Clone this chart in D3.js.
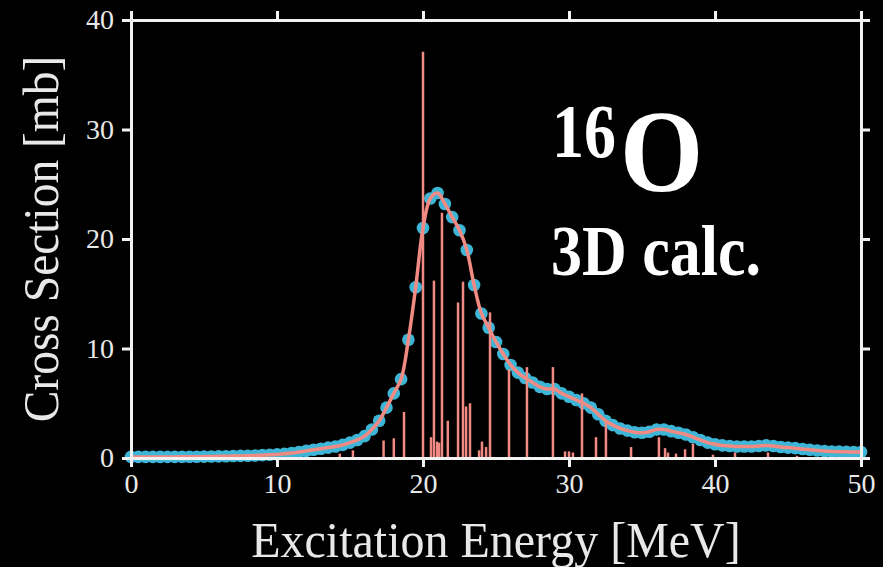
<!DOCTYPE html>
<html>
<head>
  <meta charset="utf-8">
  <title>16O cross section</title>
  <script src="https://cdn.jsdelivr.net/npm/d3@7"></script>
  <style>
    body { margin: 0; background: #000; }
    svg { display: block; }
    .tick text { font-family: "Liberation Serif", serif; fill: #e8e8e8; }
  </style>
</head>
<body>
<div id="container"></div>
<script>
// smoothed strength function, 0.5 MeV grid
var energies = d3.range(0, 50.01, 0.5);
var crossSection = [
  0.10, 0.10, 0.10, 0.10, 0.10, 0.10, 0.10, 0.11, 0.12, 0.12,
  0.13, 0.14, 0.15, 0.16, 0.18, 0.19, 0.21, 0.23, 0.26, 0.29,
  0.33, 0.38, 0.45, 0.55, 0.65, 0.75, 0.85, 0.95, 1.05, 1.20,
  1.40, 1.65, 2.00, 2.60, 3.40, 4.60, 5.90, 7.20, 10.8, 15.6,
  21.0, 23.7, 24.2, 23.2, 22.0, 20.8, 19.0, 15.8, 13.2, 11.9,
  10.6, 9.50, 8.50, 7.80, 7.30, 6.90, 6.50, 6.30, 6.30, 5.90,
  5.60, 5.30, 5.00, 4.60, 4.00, 3.40, 3.00, 2.70, 2.50, 2.35,
  2.30, 2.40, 2.60, 2.60, 2.45, 2.30, 2.15, 1.90, 1.65, 1.40,
  1.25, 1.15, 1.10, 1.05, 1.05, 1.05, 1.10, 1.15, 1.10, 1.00,
  0.95, 0.90, 0.82, 0.75, 0.68, 0.63, 0.60, 0.58, 0.56, 0.55,
  0.55
];

// discrete transition strengths (sticks)
var lineEnergies = [
  14.3, 15.2, 17.3, 18.0, 18.7, 20.0, 20.55, 20.75, 20.96, 21.1,
  21.3, 21.7, 22.4, 22.74, 22.95, 23.22, 23.84, 24.04, 24.32, 24.59,
  25.89, 27.12, 28.9, 29.73, 30.0, 30.27, 30.89, 31.85, 32.53, 34.25,
  36.16, 36.58, 36.78, 37.33, 37.95, 38.49, 39.86, 41.37, 43.63, 45.62
];
var lineStrengths = [
  0.4, 0.7, 1.6, 1.8, 4.2, 37.1, 1.9, 16.2, 1.5, 1.4,
  22.4, 3.4, 14.2, 16.1, 4.7, 5.0, 0.7, 1.5, 1.0, 13.3,
  8.1, 8.3, 8.3, 0.6, 0.6, 0.5, 5.9, 1.9, 3.3, 1.0,
  1.9, 0.9, 0.5, 0.4, 0.8, 1.3, 0.3, 0.5, 0.5, 0.2
];

var xTicks = [0, 10, 20, 30, 40, 50];
var yTicks = [0, 10, 20, 30, 40];

var width = 883, height = 567;
var margin = {top: 20, right: 22, bottom: 109, left: 131};

var svg = d3.select("#container").append("svg")
  .attr("width", width).attr("height", height)
  .style("background", "#000");

var x = d3.scaleLinear().domain([0, 50]).range([margin.left, width - margin.right]);
var y = d3.scaleLinear().domain([0, 40]).range([height - margin.bottom, margin.top]);

var lineColor = "#f28a84";
var dotColor = "#3db5d6";
var axisColor = "#f2f2f2";

var data = energies.map(function(e, i){ return {e: e, v: crossSection[i]}; });
var sticks = lineEnergies.map(function(e, i){ return {e: e, v: lineStrengths[i]}; });

// markers
svg.append("g").selectAll("circle").data(data).enter().append("circle")
  .attr("cx", function(d){ return x(d.e); })
  .attr("cy", function(d){ return y(d.v); })
  .attr("r", 6.3)
  .attr("fill", dotColor);

// smooth curve
var line = d3.line()
  .x(function(d){ return x(d.e); })
  .y(function(d){ return y(d.v); })
  .curve(d3.curveCatmullRom);

svg.append("path").datum(data)
  .attr("d", line)
  .attr("fill", "none")
  .attr("stroke", lineColor)
  .attr("stroke-width", 3.5);

// sticks
svg.append("g").selectAll("line").data(sticks).enter().append("line")
  .attr("x1", function(d){ return x(d.e); })
  .attr("x2", function(d){ return x(d.e); })
  .attr("y1", y(0))
  .attr("y2", function(d){ return y(d.v); })
  .attr("stroke", lineColor)
  .attr("stroke-width", 2.5);

// axes, ticks outward on all four sides
function styleAxis(g){
  g.selectAll(".domain").attr("stroke", axisColor).attr("stroke-width", 3);
  g.selectAll(".tick line").attr("stroke", axisColor).attr("stroke-width", 3);
}

svg.append("g")
  .attr("transform", "translate(0," + y(0) + ")")
  .call(d3.axisBottom(x).tickValues(xTicks).tickSize(9).tickSizeOuter(0).tickPadding(6))
  .call(styleAxis)
  .selectAll("text").style("font-size", "28px");

svg.append("g")
  .attr("transform", "translate(0," + y(40) + ")")
  .call(d3.axisTop(x).tickValues(xTicks).tickSize(9).tickSizeOuter(0).tickFormat(""))
  .call(styleAxis);

svg.append("g")
  .attr("transform", "translate(" + x(0) + ",0)")
  .call(d3.axisLeft(y).tickValues(yTicks).tickSize(9).tickSizeOuter(0).tickPadding(8))
  .call(styleAxis)
  .selectAll("text").style("font-size", "28px");

svg.append("g")
  .attr("transform", "translate(" + x(50) + ",0)")
  .call(d3.axisRight(y).tickValues(yTicks).tickSize(9).tickSizeOuter(0).tickFormat(""))
  .call(styleAxis);

// axis titles
svg.append("text")
  .attr("transform", "translate(" + (x(0) + x(50)) / 2 + ",557) scale(1,1.05)")
  .attr("text-anchor", "middle")
  .style("font-family", "Liberation Serif, serif")
  .style("font-size", "48px")
  .style("fill", "#e8e8e8")
  .text("Excitation Energy [MeV]");

svg.append("text")
  .attr("transform", "translate(58," + (y(0) + y(40)) / 2 + ") rotate(-90) scale(1,1.08)")
  .attr("text-anchor", "middle")
  .style("font-family", "Liberation Serif, serif")
  .style("font-size", "47.5px")
  .style("fill", "#e8e8e8")
  .text("Cross Section [mb]");

// annotation (glyphs in the source are a little taller than wide)
function boldText(px, base, size, sy, str){
  svg.append("text")
    .attr("transform", "translate(" + px + "," + base + ") scale(1," + sy + ")")
    .style("font-family", "Liberation Serif, serif")
    .style("font-weight", "bold")
    .style("font-size", size + "px")
    .style("fill", "#fff")
    .text(str);
}
boldText(552, 157, 64, 1.18, "16");
boldText(620, 191, 107, 1.09, "O");
boldText(551, 275, 62, 1.15, "3D calc.");
</script>
</body>
</html>
